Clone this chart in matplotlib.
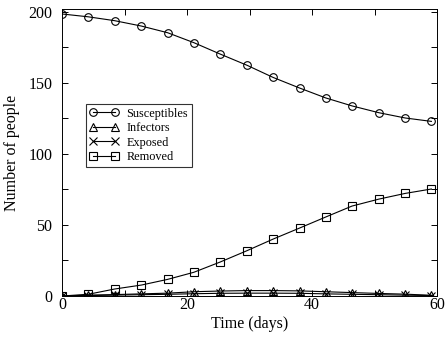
import matplotlib
matplotlib.use("Agg")
import matplotlib.pyplot as plt
from matplotlib.ticker import MultipleLocator

plt.rcParams['font.family'] = ['Liberation Serif', 'DejaVu Serif']

time_days = [0, 4.2, 8.4, 12.7, 16.9, 21.1, 25.3, 29.6, 33.8, 38.0, 42.2, 46.4, 50.7, 54.9, 59.1]
susceptibles = [198.5, 196.5, 193.8, 190.0, 185.3, 178.3, 170.3, 162.4, 153.8, 146.4, 139.4, 133.8, 129.0, 125.3, 122.9]
infectors = [0, 0.6, 1.0, 1.5, 2.0, 3.0, 3.5, 3.8, 3.8, 3.6, 3.0, 2.4, 1.8, 1.3, 0.5]
exposed = [0, 0.3, 0.6, 0.9, 1.2, 1.6, 1.9, 2.0, 2.0, 1.9, 1.5, 1.2, 0.9, 0.6, 0.3]
removed = [0, 1.2, 4.9, 7.7, 11.7, 16.7, 23.9, 31.9, 40.1, 47.8, 55.6, 63.3, 68.2, 72.2, 75.3]

x_ticks = [0, 20, 40, 60]
y_ticks = [0, 50, 100, 150, 200]

fig = plt.figure(figsize=(4.46, 3.4), dpi=100)
ax = fig.add_axes([62/446, 1-296/340, (437-62)/446, (296-9)/340])

kw = dict(color='black', lw=0.8, markerfacecolor='none', markeredgecolor='black', markeredgewidth=0.8)
ax.plot(time_days, susceptibles, marker='o', markersize=5.5, label='Susceptibles', **kw)
ax.plot(time_days, infectors, marker='^', markersize=5.5, label='Infectors', **kw)
ax.plot(time_days, exposed, marker='x', markersize=5.5, label='Exposed', **kw)
ax.plot(time_days, removed, marker='s', markersize=5.2, label='Removed', **kw)

ax.set_xlim(0, 60)
ax.set_ylim(0, 202)
ax.set_xticks(x_ticks)
ax.set_yticks(y_ticks)
ax.xaxis.set_minor_locator(MultipleLocator(10))
ax.yaxis.set_minor_locator(MultipleLocator(25))
ax.tick_params(which='both', direction='in', top=True, right=True, length=4, width=0.7, labelsize=11.5)
ax.tick_params(axis='x', pad=1)
ax.tick_params(axis='y', pad=7)
for s in ax.spines.values():
    s.set_linewidth(0.7)

ax.set_xlabel('Time (days)', fontsize=11.5, labelpad=2)
ax.set_ylabel('Number of people', fontsize=11.5, labelpad=6)

leg = ax.legend(loc='upper left', bbox_to_anchor=(0.064, 0.669), numpoints=2, fontsize=8.8,
                frameon=True, fancybox=False, edgecolor='black', handlelength=2.4,
                handletextpad=0.6, borderpad=0.3, labelspacing=0.2, borderaxespad=0)
leg.get_frame().set_linewidth(0.8)

fig.savefig('out.png', dpi=100)
